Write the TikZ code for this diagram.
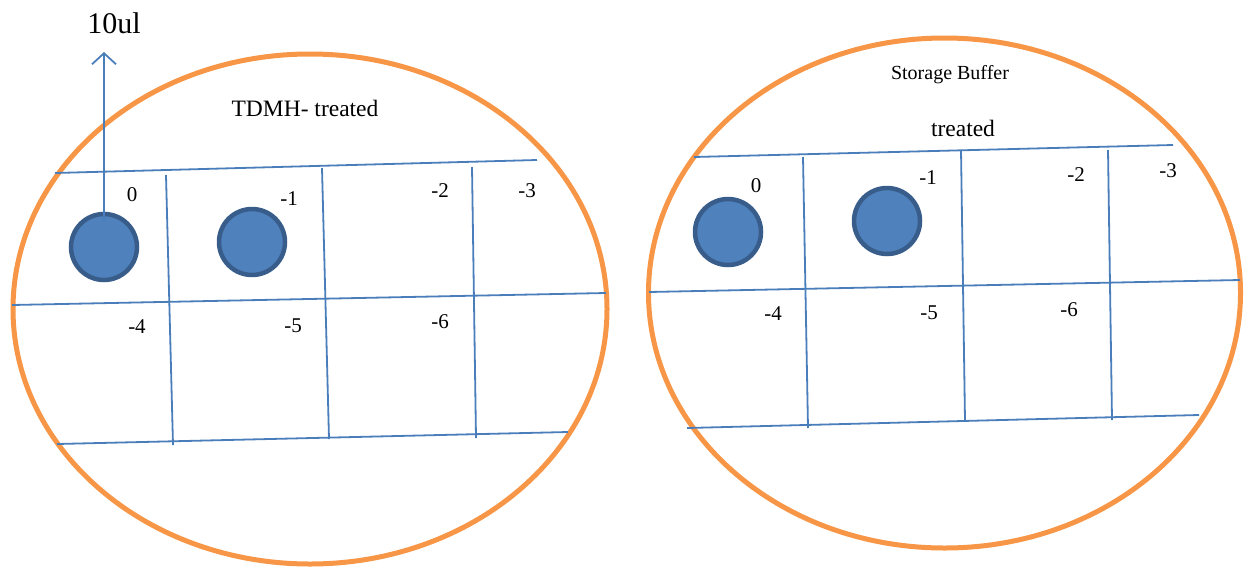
\documentclass[tikz,border=0pt]{standalone}
\usepackage{fontspec}
\setmainfont{Liberation Serif}
\usetikzlibrary{arrows.meta}
\definecolor{dishorange}{HTML}{F79646}
\definecolor{gridblue}{HTML}{4A7EBB}
\definecolor{dotfill}{HTML}{4F81BD}
\definecolor{dotedge}{HTML}{385D8A}
\tikzset{
  dish/.style={draw=dishorange, line width=5pt},
  gridline/.style={draw=gridblue, line width=1.8pt},
  dot/.style={circle, fill=dotfill, draw=dotedge, line width=4.5pt, minimum size=66pt, inner sep=0pt},
  lbl/.style={font=\fontsize{21}{23}\selectfont, inner sep=0pt},
  ttl/.style={font=\fontsize{23.5}{26}\selectfont, inner sep=0pt},
  ttlsmall/.style={font=\fontsize{20}{24}\selectfont, inner sep=0pt},
}
\begin{document}
\begin{tikzpicture}[x=1pt,y=-1pt]
\useasboundingbox (0,0) rectangle (1244,568);
% ---------- left dish ----------
\draw[dish] (310,309) ellipse [x radius=297, y radius=255];
\coordinate (LT1) at (55,173);  \coordinate (LT2) at (537,160);
\coordinate (LM1) at (12,305);  \coordinate (LM2) at (606,293);
\coordinate (LB1) at (57,444);  \coordinate (LB2) at (568,432);
\coordinate (LV1a) at (166,175); \coordinate (LV1b) at (173,445);
\coordinate (LV2a) at (322,168); \coordinate (LV2b) at (329,439);
\coordinate (LV3a) at (472,167); \coordinate (LV3b) at (476,438);
\draw[gridline] (LT1) -- (LT2);
\draw[gridline] (LM1) -- (LM2);
\draw[gridline] (LB1) -- (LB2);
\draw[gridline] (LV1a) -- (LV1b);
\draw[gridline] (LV2a) -- (LV2b);
\draw[gridline] (LV3a) -- (LV3b);
\node[dot] (lc1) at (104,247) {};
\node[dot] (lc2) at (252,242) {};
\coordinate (arrowtop) at (104,52);
\draw[gridline, -{Straight Barb[length=11pt, width=24pt, line width=1.8pt]}] (104,222) -- (arrowtop);
\node[font=\fontsize{30}{32}\selectfont, inner sep=0pt] (vol) at (114,23) {10ul};
\node[ttl] (ltitle) at (305,108) {TDMH- treated};
\node[lbl] (l0) at (132,195) {0};
\node[lbl] (l1) at (289,199) {-1};
\node[lbl] (l2) at (440,191) {-2};
\node[lbl] (l3) at (527,191) {-3};
\node[lbl] (l4) at (137,327) {-4};
\node[lbl] (l5) at (293,326) {-5};
\node[lbl] (l6) at (440,322) {-6};
% ---------- right dish ----------
\draw[dish] (944.5,293) ellipse [x radius=296, y radius=255];
\coordinate (RT1) at (694,157);  \coordinate (RT2) at (1173,145);
\coordinate (RM1) at (649,292);  \coordinate (RM2) at (1240,280);
\coordinate (RB1) at (687,428);  \coordinate (RB2) at (1199,415);
\coordinate (RV1a) at (803,157); \coordinate (RV1b) at (808,428);
\coordinate (RV2a) at (961,150); \coordinate (RV2b) at (965,421);
\coordinate (RV3a) at (1108,150); \coordinate (RV3b) at (1112,420);
\draw[gridline] (RT1) -- (RT2);
\draw[gridline] (RM1) -- (RM2);
\draw[gridline] (RB1) -- (RB2);
\draw[gridline] (RV1a) -- (RV1b);
\draw[gridline] (RV2a) -- (RV2b);
\draw[gridline] (RV3a) -- (RV3b);
\node[dot] (rc1) at (728,232) {};
\node[dot] (rc2) at (887,221) {};
\node[ttlsmall] (rtitle1) at (950,75) {Storage Buffer};
\node[ttl] (rtitle2) at (963,128) {treated};
\node[lbl] (r0) at (756,186) {0};
\node[lbl] (r1) at (928,178) {-1};
\node[lbl] (r2) at (1076,175) {-2};
\node[lbl] (r3) at (1168,171) {-3};
\node[lbl] (r4) at (773,314) {-4};
\node[lbl] (r5) at (929,313) {-5};
\node[lbl] (r6) at (1069,310) {-6};
\end{tikzpicture}
\end{document}
